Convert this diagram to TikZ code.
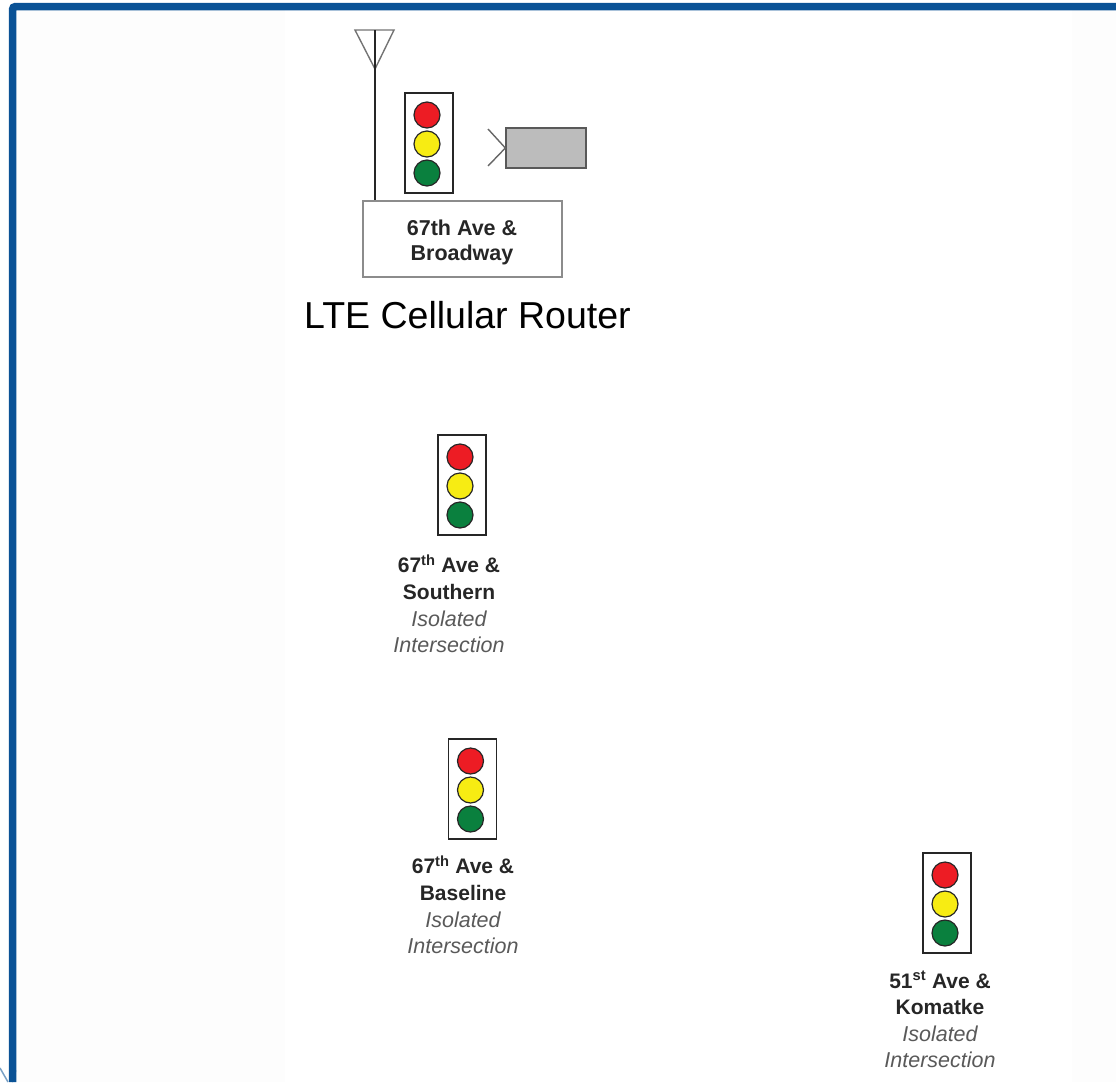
\documentclass[tikz,border=0pt]{standalone}
\usepackage{fontspec}
\setmainfont{Liberation Sans}
\usepackage{tikz}
\definecolor{frameblue}{RGB}{10,82,150}
\definecolor{lampred}{RGB}{237,28,36}
\definecolor{lampyellow}{RGB}{247,236,19}
\definecolor{lampgreen}{RGB}{10,128,62}
\definecolor{cameragray}{RGB}{188,188,188}
\definecolor{patterngray}{RGB}{253,253,253}
\tikzstyle{housing}=[rectangle, draw=black!85, line width=1.3pt, inner sep=0pt, minimum width=48pt, minimum height=100pt]
\tikzstyle{lamp}=[circle, draw=black!85, line width=1.2pt, inner sep=0pt, minimum size=26pt]
\tikzstyle{sitelabel}=[align=center, inner sep=0pt, font=\fontsize{21}{26.5}\selectfont\bfseries, text=black!85]
\tikzstyle{isolated}=[align=center, inner sep=0pt, font=\fontsize{21.5}{26.5}\selectfont\itshape, text=black!65]
\newcommand{\signal}[3]{% name, x, y of the housing centre
\node[housing] (#1) at (#2,#3) {};
\node[lamp, fill=lampred] (#1red) at (#2-2,#3-28) {};
\node[lamp, fill=lampyellow] (#1yellow) at (#2-2,#3+1) {};
\node[lamp, fill=lampgreen] (#1green) at (#2-2,#3+30) {};
}

\begin{document}
\begin{tikzpicture}[x=1pt,y=-1pt]
\useasboundingbox (0,0) rectangle (1116,1082);

% faint backdrop
\fill[patterngray] (16,10) rectangle (285,1082);
\fill[patterngray] (1072,10) rectangle (1116,1082);

% frame
\draw[frameblue, line width=7.5pt, rounded corners=3pt] (12.5,1082) -- (12.5,6.5) -- (1116,6.5);
\fill[frameblue] (16,1070) -- (16,1072) -- (13,1082) -- (12,1082) -- cycle;
\draw[frameblue!55, line width=1.5pt] (0,1068) -- (8,1082);

% site with router
\signal{lightbroadway}{429}{143}
\node[draw=black!45, line width=1.4pt, minimum width=199pt, minimum height=76pt, inner sep=0pt] (broadway) at (462.5,239) {};
\node[sitelabel, font=\fontsize{21.5}{25}\selectfont\bfseries] (broadwaytext) at (462,242) {67th Ave \&\\Broadway};
\coordinate (masttop) at (375,30);
\draw[draw=black!55, line width=1.4pt] (355,30) -- (394,30) -- (375,69) -- cycle;
\draw[draw=black!85, line width=1.4pt] (masttop) -- (masttop|-broadway.north);
\node[draw=black!65, fill=cameragray, line width=1.3pt, minimum width=80pt, minimum height=40pt, inner sep=0pt] (camera) at (546,148) {};
\coordinate (lenstop) at (488,129);
\coordinate (lensbottom) at (488,166);
\draw[draw=black!60, line width=1.4pt] (lenstop) -- (camera.west) -- (lensbottom);
\node[font=\fontsize{37.5}{40}\selectfont, text=black] (routerlabel) at (467.5,315) {LTE Cellular Router};

% isolated sites
\signal{lightsouthern}{462}{485}
\node[sitelabel] (southern) at (449,577) {67\textsuperscript{th} Ave \&\\Southern};
\node[isolated] (southerniso) at (449,632) {Isolated\\Intersection};

\signal{lightbaseline}{472.5}{789}
\node[sitelabel] (baseline) at (463,878) {67\textsuperscript{th} Ave \&\\Baseline};
\node[isolated] (baselineiso) at (463,933) {Isolated\\Intersection};

\signal{lightkomatke}{947}{903}
\node[sitelabel] (komatke) at (940,993) {51\textsuperscript{st} Ave \&\\Komatke};
\node[isolated] (komatkeiso) at (940,1047) {Isolated\\Intersection};

\end{tikzpicture}
\end{document}
